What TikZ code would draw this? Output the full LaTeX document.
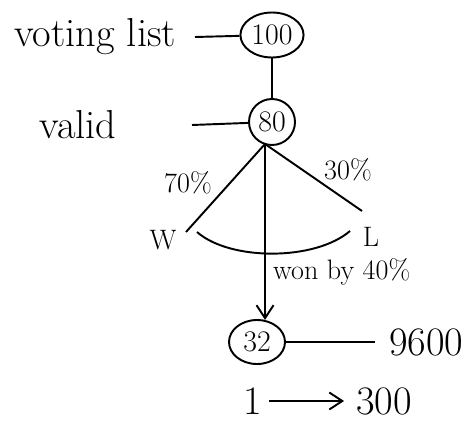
\documentclass[tikz,border=0pt]{standalone}
\usepackage{tikz}
\usetikzlibrary{positioning,arrows.meta,shapes.geometric}
\tikzset{
  >={Straight Barb[length=2.6mm,width=3.4mm]},
  pen/.style={line width=1.1pt,black},
  cnt/.style={ellipse,draw=black,line width=1.1pt,inner sep=1pt,
    font=\fontsize{17}{20}\selectfont},
  word/.style={font=\fontsize{23}{27}\selectfont,inner sep=1pt},
  pct/.style={font=\fontsize{16}{19}\selectfont,inner sep=1pt},
}
\begin{document}
\begin{tikzpicture}
  \useasboundingbox (0,0) rectangle (9.3,8.42);
  % counts
  \node[cnt,minimum width=12.4mm,minimum height=9mm] (n100) at (5.44,7.72) {100};
  \node[cnt,circle,minimum size=9.2mm] (n80) at (5.44,5.98) {80};
  \node[cnt,minimum width=11.2mm,minimum height=8.8mm] (n32) at (5.14,1.58) {32};
  % labels
  \node[word] (vlist) at (1.9,7.68) {voting list};
  \node[word] (valid) at (1.56,5.92) {valid};
  \node[word,anchor=west] (n9600) at (7.74,1.58) {9600};
  \node[pct] (w) at (3.26,3.62) {W};
  \node[pct] (l) at (7.42,3.68) {L};
  \node[pct] (p70) at (3.76,4.76) {70\%};
  \node[pct] (p30) at (6.96,5.02) {30\%};
  \node[pct,anchor=west] (won) at (5.42,2.98) {won by 40\%};
  \node[word] (one) at (5.06,0.4) {1};
  \node[word] (n300) at (7.68,0.4) {300};
  % free ends
  \coordinate (vl) at (3.9,7.68);
  \coordinate (va) at (3.84,5.92);
  \coordinate (top) at (5.3,5.54);
  \coordinate (wend) at (3.72,3.78);
  \coordinate (lend) at (7.24,4.2);
  \coordinate (arcw) at (3.94,3.78);
  \coordinate (arcl) at (7.0,3.8);
  \coordinate (tot) at (7.5,1.58);
  % connectors
  \draw[pen] (vl) -- (n100);
  \draw[pen] (va) -- (n80);
  \draw[pen] (n100) -- (n80);
  \draw[pen] (top) -- (wend);
  \draw[pen] (top) -- (lend);
  \draw[pen] (arcw) .. controls (4.6,3.2) and (6.3,3.2) .. (arcl);
  \draw[pen,->] (top) -- (n32.70);
  \draw[pen] (n32) -- (tot);
  \draw[pen,->,shorten <=1mm,shorten >=2mm] (one) -- (n300);
\end{tikzpicture}
\end{document}
